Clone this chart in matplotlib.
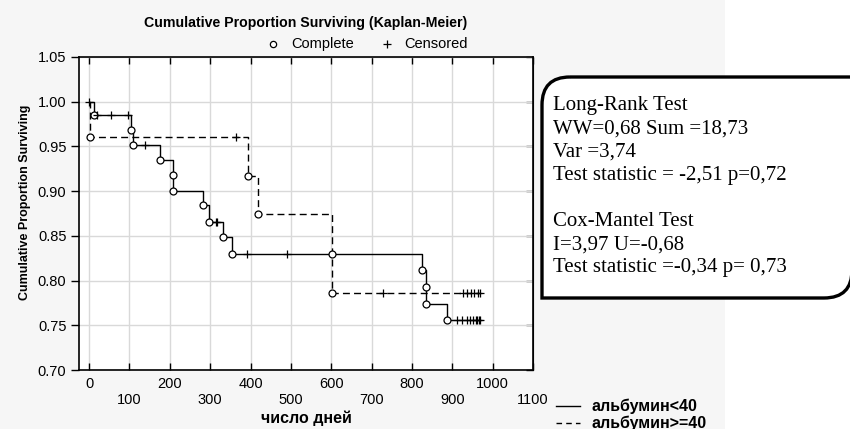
#!/usr/bin/env python3
import numpy as np
import matplotlib
matplotlib.use('Agg')
import matplotlib.pyplot as plt
from matplotlib.lines import Line2D
from matplotlib.path import Path
from matplotlib.patches import PathPatch, Rectangle

# albumin < 40 (solid line)
low_event_days = [12, 105, 110, 176, 207, 209, 282, 296, 331, 354, 826, 834, 836, 886]
low_event_surv = [0.985, 0.968, 0.952, 0.935, 0.918, 0.900, 0.884, 0.866, 0.849, 0.830,
                  0.812, 0.793, 0.774, 0.756]
low_censor_days = [0, 20, 54, 97, 139, 314, 318, 391, 491, 912, 925, 936, 945, 952, 958, 962, 966, 969]

# albumin >= 40 (dashed line)
high_event_days = [2, 395, 418, 601, 601]
high_event_surv = [0.961, 0.917, 0.874, 0.830, 0.786]
high_censor_days = [364, 729, 927, 936, 946, 955, 964, 969]

x_ticks = list(range(0, 1101, 100))
y_ticks = [0.70, 0.75, 0.80, 0.85, 0.90, 0.95, 1.00, 1.05]

series_labels = ['альбумин<40', 'альбумин>=40']
title = 'Cumulative Proportion Surviving (Kaplan-Meier)'
stats_text = ('Long-Rank Test\n'
              'WW=0,68 Sum =18,73\n'
              'Var =3,74\n'
              'Test statistic = -2,51 p=0,72\n'
              '\n'
              'Cox-Mantel Test\n'
              'I=3,97 U=-0,68\n'
              'Test statistic =-0,34 p= 0,73')

W, H = 850, 429
SANS = 'Liberation Sans'
SERIF = 'Liberation Serif'


def fx(px):
    return px / W


def fy(py):
    return 1 - py / H


def surv_at(days, event_days, event_surv):
    steps = [1.0] + list(event_surv)
    idx = np.searchsorted(event_days, days, side='right')
    return np.array(steps)[idx]


def draw_curve(ax, event_days, event_surv, censor_days, style):
    end = max(censor_days)
    xs = [0] + list(event_days) + [end]
    ys = [1.0] + list(event_surv) + [event_surv[-1]]
    ax.step(xs, ys, where='post', color='black', lw=1.0, **style, zorder=3)
    ax.plot(event_days, event_surv, 'o', ms=5, mfc='white', mec='black', mew=0.9,
            ls='none', zorder=4)
    cy = surv_at(censor_days, event_days, event_surv)
    ax.plot(censor_days, cy, '+', ms=6, mec='black', mew=0.9, ls='none', zorder=4)


fig = plt.figure(figsize=(W / 100, H / 100), dpi=100)
fig.patch.set_facecolor('white')
fig.add_artist(Rectangle((0, 0), fx(725), 1, transform=fig.transFigure,
                         facecolor='#f6f6f6', edgecolor='none', zorder=-10))

ax = fig.add_axes([fx(79), fy(370), fx(533) - fx(79), fy(57) - fy(370)])
ax.set_facecolor('white')

draw_curve(ax, low_event_days, low_event_surv, low_censor_days, {'ls': '-'})
draw_curve(ax, high_event_days, high_event_surv, high_censor_days, {'ls': (0, (5, 3))})

ax.set_xlim(-25, 1100)
ax.set_ylim(0.70, 1.05)
ax.set_xticks(x_ticks)
ax.set_xticklabels([str(v) if i % 2 == 0 else '\n' + str(v) for i, v in enumerate(x_ticks)],
                   fontsize=10.5, family=SANS)
ax.set_yticks(y_ticks)
ax.set_yticklabels([f'{v:.2f}' for v in y_ticks], fontsize=10.5, family=SANS)
ax.grid(True, color='#d9d9d9', lw=1.0, zorder=0)
ax.set_axisbelow(True)
ax.tick_params(axis='x', direction='in', top=True, length=5, width=1, pad=5)
ax.tick_params(axis='y', direction='out', length=6, width=1, pad=3)
for s in ax.spines.values():
    s.set_linewidth(1.2)
sec = ax.secondary_yaxis('right')
sec.set_yticks(y_ticks)
sec.tick_params(direction='in', length=5, width=1, labelright=False)

fig.text(fx(306), fy(418), 'число дней', ha='center', va='center', fontsize=11.5,
         family=SANS, fontweight='bold')
fig.text(fx(25), fy(202), 'Cumulative Proportion Surviving', ha='center', va='center',
         rotation=90, fontsize=9, family=SANS, fontweight='bold')

fig.text(fx(306), fy(23), title, ha='center', va='center', fontsize=10.2,
         family=SANS, fontweight='bold')

# top legend
fig.add_artist(Line2D([fx(273)], [fy(44)], marker='o', ms=4.5, mfc='white', mec='black',
                      mew=0.9, transform=fig.transFigure))
fig.text(fx(291), fy(44), 'Complete', ha='left', va='center', fontsize=10.5, family=SANS)
fig.add_artist(Line2D([fx(387)], [fy(44)], marker='+', ms=6, mec='black', mew=0.9,
                      transform=fig.transFigure))
fig.text(fx(404), fy(44), 'Censored', ha='left', va='center', fontsize=10.5, family=SANS)

# bottom legend
fig.add_artist(Line2D([fx(556), fx(580)], [fy(406), fy(406)], color='black', lw=1.0,
                      transform=fig.transFigure))
fig.add_artist(Line2D([fx(556), fx(580)], [fy(423), fy(423)], color='black', lw=1.0,
                      ls=(0, (4, 3)), transform=fig.transFigure))
fig.text(fx(592), fy(406), series_labels[0], ha='left', va='center', fontsize=11.5,
         family=SANS, fontweight='bold')
fig.text(fx(592), fy(423), series_labels[1], ha='left', va='center', fontsize=11.5,
         family=SANS, fontweight='bold')

# stats box with rounded top-left and bottom-right corners
x0, y0, x1, y1, r = 542, 77, 852, 298, 28
verts = [(x0 + r, y0), (x1, y0), (x1, y1 - r), (x1, y1), (x1 - r, y1),
         (x0, y1), (x0, y0 + r), (x0, y0), (x0 + r, y0)]
codes = [Path.MOVETO, Path.LINETO, Path.LINETO, Path.CURVE3, Path.CURVE3,
         Path.LINETO, Path.LINETO, Path.CURVE3, Path.CURVE3]
verts = [(fx(a), fy(b)) for a, b in verts]
fig.add_artist(PathPatch(Path(verts, codes), transform=fig.transFigure, facecolor='white',
                         edgecolor='black', lw=2.4, zorder=5))
fig.text(fx(553), fy(96), stats_text, ha='left', va='top', fontsize=15,
         family=SERIF, linespacing=1.3, zorder=6)

fig.savefig('out.png', dpi=100)
